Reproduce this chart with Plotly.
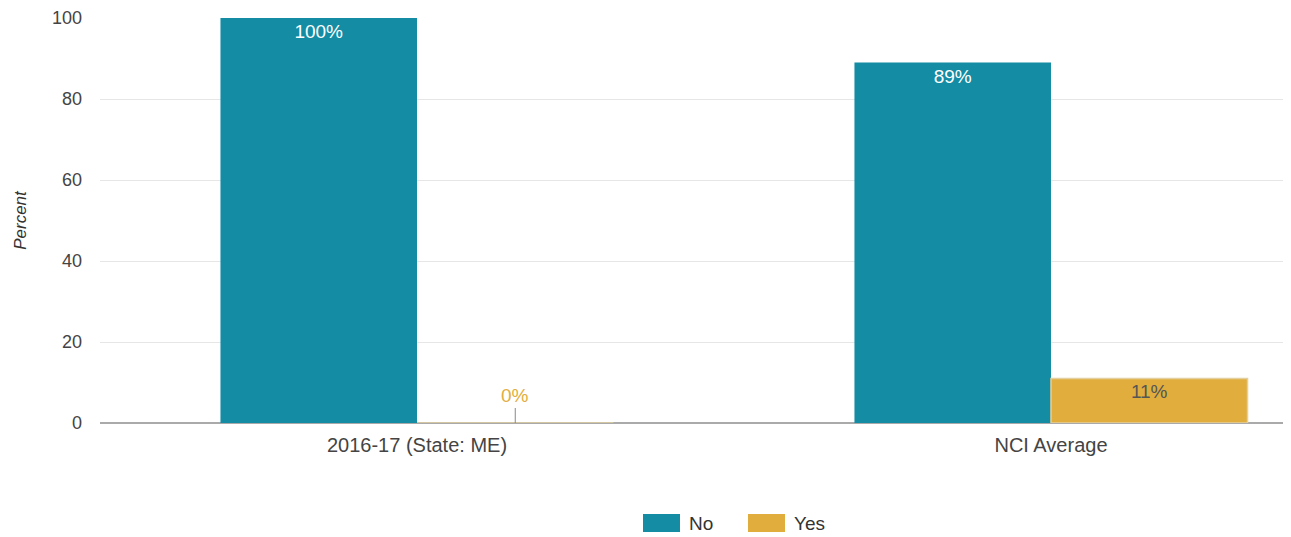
import plotly.graph_objects as go

categories = ["2016-17 (State: ME)", "NCI Average"]
no_values = [100, 89]
yes_values = [0, 11]
no_labels = ["100%", "89%"]
yes_labels = ["0%", "11%"]
y_ticks = [0, 20, 40, 60, 80, 100]

TEAL = "#138ca4"
GOLD = "#e1ae3d"
FONT = "Liberation Sans, Arial"

OFF = 8  # page body margin
W, H = 1291 - OFF, 537 - OFF
L, T = 100 - OFF, 18 - OFF
R = 1
B = H - T - 405
pw, ph = W - L - R, H - T - B

def px(x):
    return (x - OFF - L) / pw

def py(y):
    return (H - B - (y - OFF)) / ph

fig = go.Figure()
fig.add_trace(go.Bar(
    x=categories, y=no_values, name="No",
    marker=dict(color=TEAL, line=dict(width=0)),
    text=no_labels, textposition="inside", insidetextanchor="end",
    textfont=dict(color="white", size=19, family=FONT),
    showlegend=False,
))
yes_text = [t if v > 0 else "" for t, v in zip(yes_labels, yes_values)]
fig.add_trace(go.Bar(
    x=categories, y=yes_values, name="Yes",
    marker=dict(color=GOLD, line=dict(width=1.5, color="#e3cfa0")),
    text=yes_text, textposition="inside", insidetextanchor="end",
    textfont=dict(color="#555555", size=19, family=FONT),
    showlegend=False,
))

# label for zero-height bar
for i, (v, t) in enumerate(zip(yes_values, yes_labels)):
    if v == 0:
        fig.add_annotation(
            x=i + 0.155, y=v, xref="x", yref="y", text=t,
            showarrow=True, arrowhead=0, arrowwidth=1, arrowcolor="#888888",
            ax=0, ay=-15, yanchor="bottom",
            font=dict(color=GOLD, size=19, family=FONT),
        )

# legend drawn manually with wide swatches
legend_items = [("No", TEAL, 643), ("Yes", GOLD, 748)]
for name, color, x0 in legend_items:
    fig.add_shape(type="rect", xref="paper", yref="paper",
                  x0=px(x0), x1=px(x0 + 37), y0=py(532), y1=py(514),
                  fillcolor=color, line=dict(width=0))
    fig.add_annotation(xref="paper", yref="paper", x=px(x0 + 44), y=py(523),
                       text=name, showarrow=False, xanchor="left", yanchor="middle",
                       font=dict(size=19, color="#333333", family=FONT))

fig.update_layout(
    width=W, height=H,
    margin=dict(l=L, r=R, t=T, b=B, autoexpand=False),
    plot_bgcolor="white", paper_bgcolor="white",
    barmode="group", bargap=0.38, bargroupgap=0,
    font=dict(family=FONT, size=18, color="#444444"),
    xaxis=dict(range=[-0.5, 1.377], showgrid=False, ticks="", showline=False,
               ticklabelstandoff=8, tickfont=dict(size=20, color="#444444")),
    yaxis=dict(range=[0, 100], tickvals=y_ticks, showgrid=True, gridcolor="#e6e6e6",
               gridwidth=1, zeroline=True, zerolinecolor="#aaaaaa", zerolinewidth=2,
               tickfont=dict(size=18, color="#444444"), ticklabelstandoff=17,
               title=dict(text="<i>Percent</i>", standoff=21,
                          font=dict(size=17, color="#333333"))),
)

fig.write_html("out.html")
